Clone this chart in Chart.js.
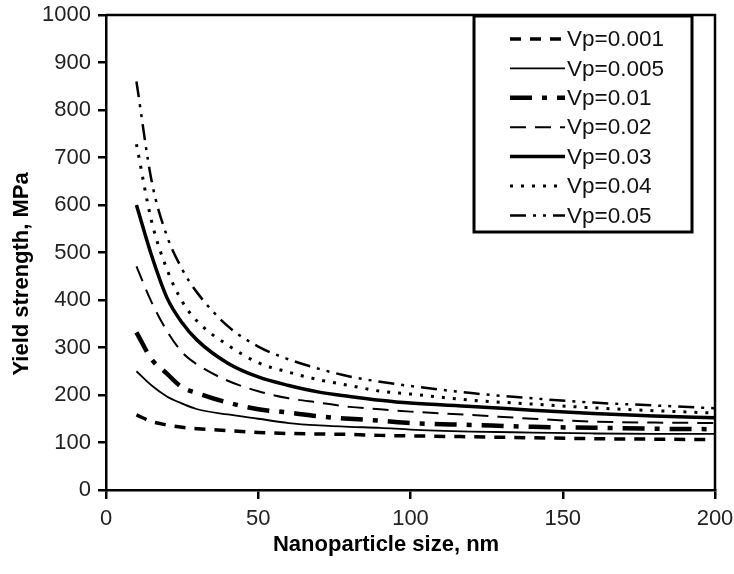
<!DOCTYPE html>
<html>
<head>
<meta charset="utf-8">
<script src="https://cdn.jsdelivr.net/npm/chart.js@4/dist/chart.umd.min.js"></script>
<style>
  body { margin: 0; background: #fff; }
</style>
</head>
<body>
<canvas id="MyChart" width="734" height="574"></canvas>
<script>
// particle size (nm) where the curves were read
const sizes = [10, 15, 20, 25, 30, 40, 50, 60, 70, 80, 90, 100, 120, 140, 160, 180, 200]

// yield strength (MPa) for each volume fraction
const vp001 = [158, 144, 137, 132, 129, 125, 121, 119, 118, 117, 115, 114, 112, 110, 108, 107, 106]
const vp005 = [250, 220, 197, 182, 170, 159, 150, 141, 136, 133, 131, 127, 123, 121, 119, 118, 118]
const vp01  = [332, 275, 245, 216, 204, 184, 170, 163, 155, 150, 146, 141, 137, 133, 131, 129, 128]
const vp02  = [471, 395, 335, 290, 264, 230, 208, 193, 184, 175, 170, 165, 158, 150, 144, 142, 141]
const vp03  = [600, 493, 405, 352, 315, 267, 238, 220, 206, 197, 189, 183, 176, 168, 161, 156, 152]
const vp04  = [728, 565, 465, 397, 355, 305, 268, 248, 232, 220, 208, 202, 189, 181, 173, 167, 162]
const vp05  = [860, 650, 535, 465, 415, 345, 302, 275, 255, 239, 228, 219, 204, 193, 184, 178, 172]

const seriesNames = ['Vp=0.001', 'Vp=0.005', 'Vp=0.01', 'Vp=0.02', 'Vp=0.03', 'Vp=0.04', 'Vp=0.05']
const seriesValues = [vp001, vp005, vp01, vp02, vp03, vp04, vp05]

const xTicks = [0, 50, 100, 150, 200]
const yTicks = [0, 100, 200, 300, 400, 500, 600, 700, 800, 900, 1000]

// line look for each series, same order as above
const lineStyles = [
    { width: 3.5, dash: [11, 9] },
    { width: 1.8, dash: [] },
    { width: 4.5, dash: [22, 10, 5, 10] },
    { width: 2, dash: [16, 9] },
    { width: 3.5, dash: [] },
    { width: 3, dash: [3, 8] },
    { width: 2.5, dash: [16, 7, 3, 7, 3, 7] }
]

const FONT = '"Liberation Sans", Arial, sans-serif'

const datasets = seriesValues.map((vals, i) => ({
    label: seriesNames[i],
    data: vals.map((v, j) => ({ x: sizes[j], y: v })),
    borderColor: '#000',
    borderWidth: lineStyles[i].width,
    borderDash: lineStyles[i].dash,
    pointRadius: 0,
    fill: false,
    tension: 0.4,
    cubicInterpolationMode: 'monotone'
}))

// top and right side of the plot box
const frame = {
    id: 'frame',
    afterDatasetsDraw(chart) {
        const a = chart.chartArea
        const ctx = chart.ctx
        ctx.save()
        ctx.strokeStyle = '#000'
        ctx.lineWidth = 2.5
        ctx.beginPath()
        ctx.moveTo(a.left, a.top)
        ctx.lineTo(a.right, a.top)
        ctx.lineTo(a.right, a.bottom)
        ctx.stroke()
        ctx.restore()
    }
}

// boxed legend in the top right corner
const boxLegend = {
    id: 'boxLegend',
    afterDraw(chart) {
        const a = chart.chartArea
        const ctx = chart.ctx
        const left = a.right - 241, top = a.top + 1, w = 218, h = 216
        ctx.save()
        ctx.fillStyle = '#fff'
        ctx.fillRect(left, top, w, h)
        ctx.lineWidth = 3
        ctx.strokeStyle = '#000'
        ctx.strokeRect(left, top, w, h)
        ctx.font = '22.5px ' + FONT
        ctx.textBaseline = 'middle'
        chart.data.datasets.forEach((ds, i) => {
            const y = top + 23 + i * 29.4
            ctx.beginPath()
            ctx.setLineDash(ds.borderDash)
            ctx.lineWidth = ds.borderWidth
            ctx.moveTo(left + 36, y)
            ctx.lineTo(left + 91, y)
            ctx.stroke()
            ctx.setLineDash([])
            ctx.fillStyle = '#111'
            ctx.fillText(ds.label, left + 93, y + 1)
        })
        ctx.restore()
    }
}

const ctx = document.getElementById('MyChart').getContext('2d')

new Chart(ctx, {
    type: 'line',
    data: { datasets: datasets },
    plugins: [frame, boxLegend],
    options: {
        responsive: false,
        animation: false,
        layout: { padding: { left: 0, right: 19, top: 15, bottom: 0 } },
        plugins: {
            legend: { display: false },
            tooltip: { enabled: false }
        },
        scales: {
            x: {
                type: 'linear',
                min: 0,
                max: 200,
                afterBuildTicks: (scale) => { scale.ticks = xTicks.map(v => ({ value: v })) },
                afterFit: (scale) => {
                    scale.height = 84
                    scale.paddingLeft = 0
                    scale.paddingRight = 0
                },
                ticks: { color: '#222', font: { size: 22, family: FONT }, padding: 7, maxRotation: 0, callback: (v) => String(v) },
                grid: { drawOnChartArea: false, drawTicks: true, tickLength: 9, color: '#000', lineWidth: 2.5 },
                border: { display: true, color: '#000', width: 2.5 },
                title: {
                    display: true,
                    // trailing spaces push the title left, as in the original
                    text: 'Nanoparticle size, nm        ',
                    color: '#000',
                    font: { size: 22, weight: 'bold', family: FONT },
                    padding: { top: 0, bottom: 16 }
                }
            },
            y: {
                min: 0,
                max: 1000,
                afterBuildTicks: (scale) => { scale.ticks = yTicks.map(v => ({ value: v })) },
                afterFit: (scale) => {
                    scale.width = 106
                    scale.paddingTop = 0
                    scale.paddingBottom = 0
                },
                ticks: { color: '#222', font: { size: 22, family: FONT }, padding: 7, callback: (v) => String(v) },
                grid: { drawOnChartArea: false, drawTicks: true, tickLength: 8, color: '#000', lineWidth: 2.5 },
                border: { display: true, color: '#000', width: 2.5 },
                title: {
                    display: true,
                    text: 'Yield strength, MPa       ',
                    color: '#000',
                    font: { size: 22, weight: 'bold', family: FONT },
                    padding: { top: 9, bottom: 0 }
                }
            }
        }
    }
})
</script>
</body>
</html>
